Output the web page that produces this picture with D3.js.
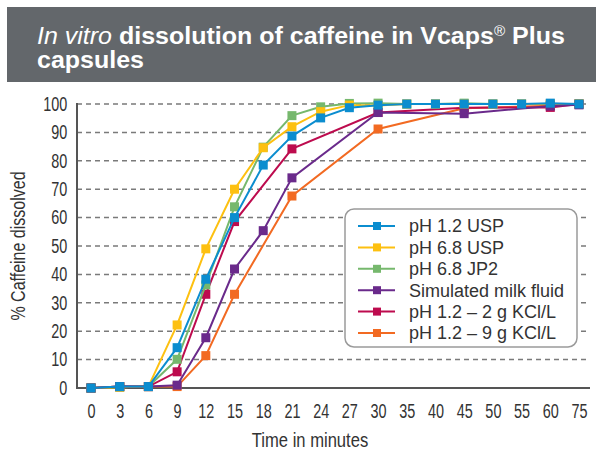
<!doctype html>
<html>
<head>
<meta charset="utf-8">
<title>In vitro dissolution of caffeine</title>
<style>
    body { margin: 0; background: white; }
    .title { font: bold 23px "Liberation Sans", Arial, sans-serif; fill: white; }
    .tick text { font: 19.5px "Liberation Sans", Arial, sans-serif; fill: #333; }
    .axis-title { font: 20px "Liberation Sans", Arial, sans-serif; fill: #333; }
    .legend text { font: 18px "Liberation Sans", Arial, sans-serif; fill: #333; }
</style>
</head>
<body>
<script src="https://cdn.jsdelivr.net/npm/d3@7"></script>
<script>
    // data
    const times = ["0", "3", "6", "9", "12", "15", "18", "21", "24", "27", "30", "35", "40", "45", "50", "55", "60", "75"];
    const seriesNames = ["pH 1.2 USP", "pH 6.8 USP", "pH 6.8 JP2", "Simulated milk fluid", "pH 1.2 \u2013 2 g KCl/L", "pH 1.2 \u2013 9 g KCl/L"];
    const seriesColours = ["#0b8dcf", "#fdc010", "#76b86d", "#6a2a8b", "#bd0b4e", "#f26a22"];
    const ph12Usp = [0, 0.5, 0.5, 14.2, 38.3, 60, 78.5, 88.7, 95.1, 98.7, 99.6, 100, 100, 100, 100, 100, 100.3, 100];
    const ph68Usp = [0, 0.3, 0.5, 22.2, 49, 70, 84.6, 92, 97.3, 99.6, 99.5, 100, 100, 100, 100, 100, 100, 100];
    const ph68Jp2 = [0, 0.3, 0.5, 10.1, 36.3, 63.8, 84.8, 95.9, 99, 100.2, 100.3, 100, 100, 100.3, 100, 100, 100, 100];
    const milk = [0, 0.5, 0.5, 1, 17.7, 41.9, 55.4, 74, null, null, 97, null, null, 96.6, null, null, 99.3, 99.7];
    const kcl2 = [0, 0.5, 0.5, 5.7, 33, 58.6, null, 84.2, null, null, 97, null, null, 98.7, null, null, 98.8, 100];
    const kcl9 = [0, 0.5, 0.5, 0.5, 11.4, 33, null, 67.6, null, null, 91.2, null, null, 98.5, null, null, 99.4, 100];
    const yTicks = [0, 10, 20, 30, 40, 50, 60, 70, 80, 90, 100];

    const allSeries = [ph12Usp, ph68Usp, ph68Jp2, milk, kcl2, kcl9];
    const drawOrder = [5, 4, 2, 1, 3, 0];

    const width = 596, height = 454;
    const narrow = 0.74;   // no condensed font installed, squeeze the glyphs instead
    const svg = d3.select("body").append("svg")
        .attr("width", width)
        .attr("height", height);

    // title band
    svg.append("rect")
        .attr("x", 7).attr("y", 7)
        .attr("width", width - 7).attr("height", 75)
        .attr("fill", "#63676b");
    const titleG = svg.append("g").attr("transform", "translate(37,0)");
    const title = titleG.append("text").attr("class", "title").attr("y", 44);
    title.append("tspan").attr("font-style", "italic").attr("font-weight", "normal").text("In vitro");
    title.append("tspan").text(" dissolution of caffeine in Vcaps");
    title.append("tspan").attr("font-size", "14px").attr("font-weight", "normal").attr("dy", -8).text("\u00ae");
    title.append("tspan").attr("dy", 8).text(" Plus");
    titleG.append("text").attr("class", "title").attr("y", 68).text("capsules");
    const titleScale = 528 / title.node().getComputedTextLength();
    titleG.selectAll("text").attr("transform", `scale(${titleScale},1)`);

    const plotLeft = 77, plotRight = 590, plotTop = 104, plotBottom = 388;
    const x = d3.scalePoint().domain(times).range([91, 579]);
    const y = d3.scaleLinear().domain([0, 100]).range([plotBottom, plotTop]);

    // dashed grid
    svg.append("g")
        .selectAll("line")
        .data(yTicks.filter(d => d > 0))
        .join("line")
        .attr("x1", plotLeft).attr("x2", plotRight)
        .attr("y1", d => y(d)).attr("y2", d => y(d))
        .attr("stroke", "#7a7a7a")
        .attr("stroke-width", 1.5)
        .attr("stroke-dasharray", "5,4");

    // axes
    const yAxis = svg.append("g")
        .attr("transform", `translate(${plotLeft},0)`)
        .call(d3.axisLeft(y).tickValues(yTicks).tickSize(0).tickPadding(13));
    yAxis.select(".domain").remove();
    yAxis.selectAll(".tick text").attr("transform", `scale(${narrow},1)`);

    const xAxis = svg.append("g")
        .attr("transform", `translate(0,${plotBottom})`)
        .call(d3.axisBottom(x).tickSize(0).tickPadding(16));
    xAxis.select(".domain").remove();
    xAxis.selectAll(".tick text").attr("transform", `scale(${narrow},1)`);

    svg.append("line")
        .attr("x1", plotLeft).attr("x2", plotRight)
        .attr("y1", plotBottom).attr("y2", plotBottom)
        .attr("stroke", "#555").attr("stroke-width", 2);
    svg.append("line")
        .attr("x1", plotLeft).attr("x2", plotLeft)
        .attr("y1", plotTop - 1).attr("y2", plotBottom + 1)
        .attr("stroke", "#555").attr("stroke-width", 2);

    svg.append("text").attr("class", "axis-title")
        .attr("text-anchor", "middle")
        .attr("transform", `translate(25,${(plotTop + plotBottom) / 2}) rotate(-90) scale(0.8,1)`)
        .text("% Caffeine dissolved");
    svg.append("text").attr("class", "axis-title")
        .attr("text-anchor", "middle")
        .attr("transform", "translate(310,447) scale(0.83,1)")
        .text("Time in minutes");

    // lines and markers
    const line = d3.line().x(d => x(d.t)).y(d => y(d.v));
    const markerSize = 9;
    drawOrder.forEach(i => {
        const pts = times.map((t, j) => ({t: t, v: allSeries[i][j]})).filter(d => d.v !== null);
        const g = svg.append("g");
        g.append("path")
            .attr("d", line(pts))
            .attr("fill", "none")
            .attr("stroke", seriesColours[i])
            .attr("stroke-width", 2);
        g.selectAll("rect")
            .data(pts)
            .join("rect")
            .attr("x", d => x(d.t) - markerSize / 2)
            .attr("y", d => y(d.v) - markerSize / 2)
            .attr("width", markerSize)
            .attr("height", markerSize)
            .attr("fill", seriesColours[i]);
    });

    // legend
    const legend = svg.append("g").attr("class", "legend");
    legend.append("rect")
        .attr("x", 345).attr("y", 209)
        .attr("width", 232).attr("height", 138)
        .attr("rx", 9)
        .attr("fill", "white")
        .attr("stroke", "#9a9a9a")
        .attr("stroke-width", 1.5);
    const rowY = d3.scalePoint().domain(seriesNames).range([226, 333]);
    const rows = legend.selectAll("g.row")
        .data(seriesNames)
        .join("g")
        .attr("class", "row")
        .attr("transform", d => `translate(0,${rowY(d)})`);
    rows.append("line")
        .attr("x1", 358).attr("x2", 395)
        .attr("stroke", (d, i) => seriesColours[i])
        .attr("stroke-width", 2);
    rows.append("rect")
        .attr("x", 377 - 4).attr("y", -4)
        .attr("width", 8).attr("height", 8)
        .attr("fill", (d, i) => seriesColours[i]);
    rows.append("text")
        .attr("x", 409).attr("dy", "0.36em")
        .text(d => d);
</script>
</body>
</html>
